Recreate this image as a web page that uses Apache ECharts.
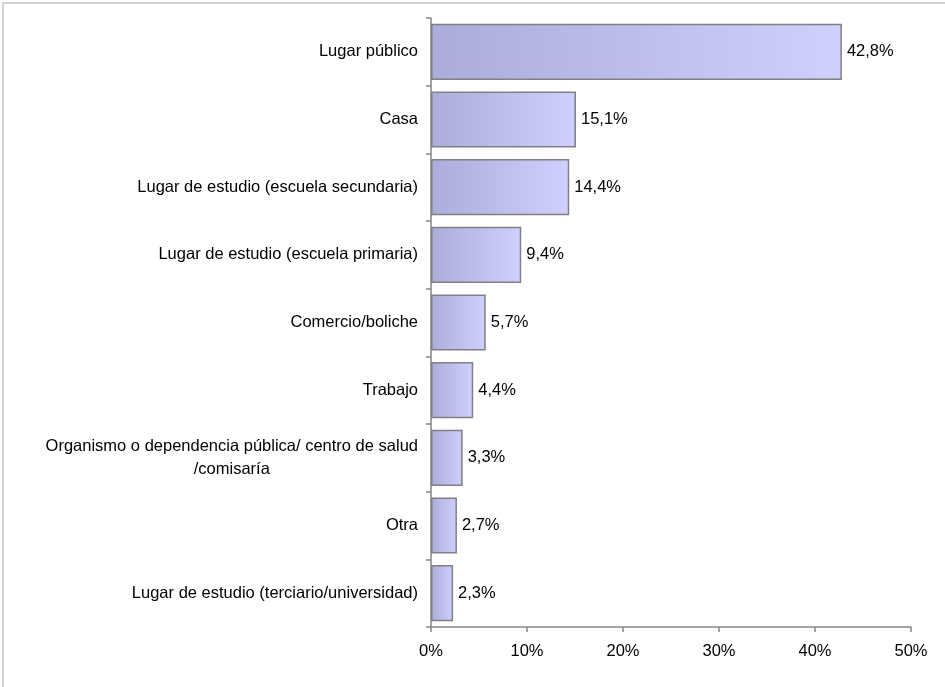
<!DOCTYPE html>
<html>
<head>
<meta charset="utf-8">
<script src="https://cdn.jsdelivr.net/npm/echarts@6/dist/echarts.min.js"></script>
<style>
html,body{margin:0;padding:0;background:#fff;overflow:hidden;}
#frame{position:absolute;left:2px;top:2px;width:980px;height:720px;border:2px solid #d4d4d4;}
#chart{position:absolute;left:0;top:0;width:945px;height:687px;}
</style>
</head>
<body>
<div id="frame"></div>
<div id="chart"></div>
<script>
const categories = [
  "Lugar público",
  "Casa",
  "Lugar de estudio (escuela secundaria)",
  "Lugar de estudio (escuela primaria)",
  "Comercio/boliche",
  "Trabajo",
  "Organismo o dependencia pública/ centro de salud\n/comisaría",
  "Otra",
  "Lugar de estudio (terciario/universidad)"
];
const values = [42.8, 15.1, 14.4, 9.4, 5.7, 4.4, 3.3, 2.7, 2.3];
const xTicks = [0, 10, 20, 30, 40, 50];

const chart = echarts.init(document.getElementById('chart'));
const font = 'Liberation Sans, Arial, sans-serif';
const fs = 16.5;
chart.setOption({
  animation: false,
  grid: {left: 431, right: 34, top: 18, bottom: 60, containLabel: false},
  xAxis: {
    type: 'value', min: xTicks[0], max: xTicks[xTicks.length - 1], interval: 10,
    axisLine: {show: true, lineStyle: {color: '#868686', width: 1.5}},
    axisTick: {show: true, length: 5, lineStyle: {color: '#868686', width: 1.5}},
    splitLine: {show: false},
    axisLabel: {margin: 16, color: '#000', fontFamily: font, fontSize: fs,
      formatter: v => v + '%'}
  },
  yAxis: {
    type: 'category', data: categories, inverse: true,
    axisLine: {show: true, lineStyle: {color: '#868686', width: 1.5}},
    axisTick: {show: true, length: 5, inside: false, lineStyle: {color: '#868686', width: 1.5}},
    axisLabel: {margin: 13, color: '#000', fontFamily: font, fontSize: fs, lineHeight: 23,
      formatter: v => v.indexOf('\n') >= 0 ? v.split('\n').map(s => '{c|' + s + '}').join('\n') : v,
      rich: {c: {align: 'center', fontFamily: font, fontSize: fs, color: '#000', lineHeight: 23}}
    }
  },
  series: [{
    type: 'bar',
    data: values,
    barCategoryGap: '17%',
    itemStyle: {
      color: new echarts.graphic.LinearGradient(0, 0, 1, 0, [
        {offset: 0, color: '#aaacd9'},
        {offset: 1, color: '#cfd0ff'}
      ]),
      borderColor: '#808080', borderWidth: 1.5
    },
    label: {
      show: true, position: 'right', distance: 5, color: '#000',
      fontFamily: font, fontSize: fs,
      formatter: p => p.value.toFixed(1).replace('.', ',') + '%'
    }
  }]
});
</script>
</body>
</html>
